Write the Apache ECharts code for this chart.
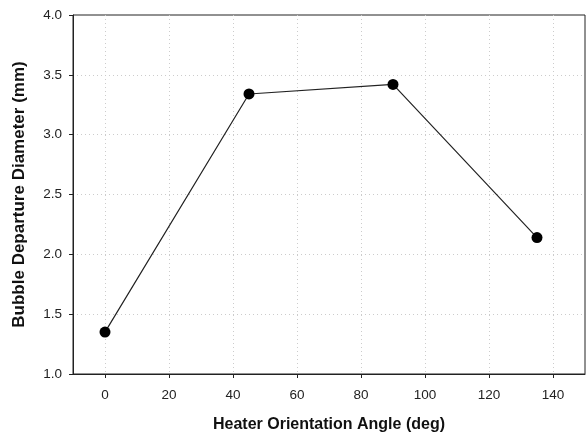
<!doctype html>
<html lang="en">
  <head>
    <meta charset="UTF-8" />
    <title>Bubble departure diameter</title>
    <script src="https://fastly.jsdelivr.net/npm/echarts@6/dist/echarts.min.js"></script>
    <style>
      * { margin: 0; padding: 0; }
      html, body, #chart { width: 100%; height: 100%; overflow: hidden; background: #fff; }
    </style>
  </head>
  <body>
    <div id="chart"></div>
    <script>
      // heater orientation angle (deg) vs bubble departure diameter (mm)
      const angles = [0, 45, 90, 135];
      const diameters = [1.35, 3.34, 3.42, 2.14];
      const xTicks = [0, 20, 40, 60, 80, 100, 120, 140];

      const font = 'Liberation Sans, Arial, sans-serif';
      const chart = echarts.init(document.getElementById('chart'));
      chart.setOption({
        animation: false,
        grid: {
          left: 73, right: 1, top: 15, bottom: 62,
          outerBoundsMode: 'none',
          containLabel: false,
          show: true, borderColor: '#222', borderWidth: 1
        },
        xAxis: {
          type: 'value',
          min: -10, max: 150,
          name: 'Heater Orientation Angle (deg)',
          nameLocation: 'middle',
          nameGap: 43,
          nameTextStyle: { fontFamily: font, fontWeight: 'bold', fontSize: 16, color: '#111' },
          axisLine: { onZero: false, lineStyle: { color: '#222', width: 1 } },
          axisTick: { show: true, length: 4, lineStyle: { color: '#222' }, customValues: xTicks },
          axisLabel: {
            fontFamily: font, fontSize: 13.5, color: '#222', margin: 14,
            customValues: xTicks
          },
          splitLine: { show: true, lineStyle: { color: '#ccc', type: [1, 3] } }
        },
        yAxis: {
          type: 'value',
          min: 1, max: 4, interval: 0.5,
          name: 'Bubble Departure Diameter (mm)',
          nameLocation: 'middle',
          nameGap: 45,
          nameTextStyle: { fontFamily: font, fontWeight: 'bold', fontSize: 17, color: '#111' },
          axisLine: { onZero: false, lineStyle: { color: '#222', width: 1 } },
          axisTick: { show: true, length: 4, lineStyle: { color: '#222' } },
          axisLabel: {
            fontFamily: font, fontSize: 13.5, color: '#222', margin: 11,
            formatter: v => v.toFixed(1)
          },
          splitLine: { show: true, showMinLine: false, showMaxLine: false, lineStyle: { color: '#ccc', type: [1, 3] } }
        },
        series: [
          {
            type: 'line',
            data: angles.map((a, i) => [a, diameters[i]]),
            symbol: 'circle',
            symbolSize: 11,
            itemStyle: { color: '#000' },
            lineStyle: { color: '#222', width: 1.2 }
          }
        ]
      });
    </script>
  </body>
</html>
